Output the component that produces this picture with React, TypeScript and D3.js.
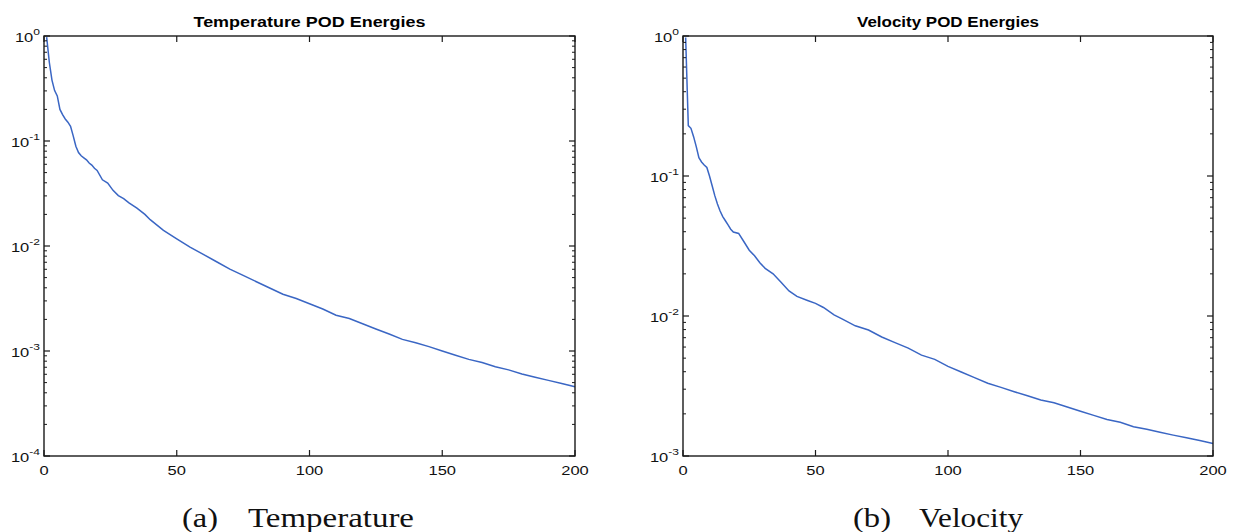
import React, { useEffect } from "react";
import * as d3 from "d3";

// POD mode index and normalised energy
const tempIdx = [1, 2, 3, 4, 5, 6, 7, 8, 9, 10, 11, 12, 13, 14, 15, 16, 17, 18, 19, 20, 22, 24, 26, 28, 30, 32, 35, 38, 40,
  45, 50, 55, 60, 65, 70, 75, 80, 85, 90, 95, 100, 105, 110, 115, 120, 125, 130, 135, 140, 145, 150, 155, 160, 165, 170,
  175, 180, 185, 190, 195, 200];
const tempEnergy = [0.977, 0.562, 0.38, 0.302, 0.269, 0.2, 0.178, 0.162, 0.151, 0.138,
  0.112, 0.0891, 0.0776, 0.0724, 0.0692, 0.0661, 0.0617, 0.0589, 0.055, 0.0525,
  0.0427, 0.0398, 0.0339, 0.0302, 0.0282, 0.0257,
  0.0229, 0.02, 0.0178,
  0.0141, 0.0117, 0.00977, 0.00832, 0.00708, 0.00603, 0.00525, 0.00457, 0.00398, 0.00347,
  0.00316, 0.00282, 0.00251, 0.00219, 0.00204, 0.00182, 0.00162, 0.00145, 0.00129, 0.0012,
  0.0011, 0.001, 0.000912, 0.000832, 0.000776, 0.000708, 0.000661, 0.000603, 0.000562, 0.000525,
  0.00049, 0.000457];

const velIdx = [1, 2, 3, 4, 5, 6, 7, 8, 9, 10, 11, 12, 13, 14, 15, 16, 17, 18, 19, 21, 23, 25, 27, 29, 31, 34, 37, 40, 43,
  47, 50, 53, 57, 60, 65, 70, 75, 80, 85, 90, 95, 100, 105, 110, 115, 120, 125, 130, 135, 140, 145, 150, 155, 160, 165,
  170, 175, 180, 185, 190, 195, 200];
const velEnergy = [0.977, 0.229, 0.219, 0.191, 0.162, 0.135, 0.126, 0.12, 0.115, 0.1,
  0.0851, 0.0724, 0.0631, 0.0562, 0.0513, 0.0479, 0.0447, 0.0417, 0.0398,
  0.0389, 0.0339, 0.0295, 0.0269, 0.024, 0.0219,
  0.02, 0.0174, 0.0151, 0.0138, 0.0129, 0.0123, 0.0115, 0.0102, 0.00955,
  0.00851, 0.00794, 0.00708, 0.00646, 0.00589, 0.00525, 0.0049, 0.00437, 0.00398, 0.00363,
  0.00331, 0.00309, 0.00288, 0.00269, 0.00251, 0.0024, 0.00224, 0.00209, 0.00195, 0.00182,
  0.00174, 0.00162, 0.00155, 0.00148, 0.00141, 0.00135, 0.00129, 0.00123];

const xTicks = [0, 50, 100, 150, 200];
const tempDecades = [0, -1, -2, -3, -4];
const velDecades = [0, -1, -2, -3];

const SANS = "'Liberation Sans', Arial, Helvetica, sans-serif";
const SERIF = "'Liberation Serif', 'Times New Roman', serif";
const STRETCH = 1.27; // the figure is stretched horizontally
const BLUE = "#3a66c4";
const AXIS = "#1a1a1a";

type PanelProps = {
  x0: number;
  x1: number;
  idx: number[];
  energy: number[];
  decades: number[];
  title: string;
  titleWidth: number;
  label: string;
  labelX: number;
  labelWidth: number;
  caption: string;
  captionX: number;
  captionWidth: number;
};

const TOP = 36;
const BOTTOM = 456;

function Panel(p: PanelProps) {
  const x = d3.scaleLinear().domain([0, 200]).range([p.x0, p.x1]);
  const y = d3
    .scaleLog()
    .domain([Math.pow(10, d3.min(p.decades)!), 1])
    .range([BOTTOM, TOP]);

  const line = d3
    .line<number>()
    .x((d, i) => x(p.idx[i]))
    .y((d) => y(d));

  const minor: number[] = [];
  p.decades.slice(1).forEach((d) => {
    for (let k = 2; k <= 9; k++) minor.push(k * Math.pow(10, d));
  });

  return (
    <g>
      <text
        x={(p.x0 + p.x1) / 2}
        y={27}
        textAnchor="middle"
        fontFamily={SANS}
        fontWeight="bold"
        fontSize={14}
        textLength={p.titleWidth}
        lengthAdjust="spacingAndGlyphs"
      >
        {p.title}
      </text>

      <path d={line(p.energy) || ""} fill="none" stroke={BLUE} strokeWidth={1.5} />

      {/* minor y ticks, both sides */}
      {minor.map((v, i) => (
        <g key={"m" + i} stroke={AXIS} strokeWidth={1}>
          <line x1={p.x0} x2={p.x0 + 3} y1={y(v)} y2={y(v)} />
          <line x1={p.x1} x2={p.x1 - 3} y1={y(v)} y2={y(v)} />
        </g>
      ))}
      {/* major y ticks and labels */}
      {p.decades.map((d) => {
        const yy = y(Math.pow(10, d));
        return (
          <g key={"d" + d}>
            <line x1={p.x0} x2={p.x0 + 6} y1={yy} y2={yy} stroke={AXIS} strokeWidth={1.2} />
            <line x1={p.x1} x2={p.x1 - 6} y1={yy} y2={yy} stroke={AXIS} strokeWidth={1.2} />
            <g transform={`translate(${p.x0 - 4},${yy + 5.5}) scale(${STRETCH},1)`}>
              <text textAnchor="end" fontFamily={SANS} fontSize={13} fill="#111">
                10
                <tspan dy={-7} fontSize={9.5}>
                  {String(d)}
                </tspan>
              </text>
            </g>
          </g>
        );
      })}
      {/* x ticks and labels */}
      {xTicks.map((t) => (
        <g key={"x" + t}>
          <line x1={x(t)} x2={x(t)} y1={BOTTOM} y2={BOTTOM - 6} stroke={AXIS} strokeWidth={1.2} />
          <line x1={x(t)} x2={x(t)} y1={TOP} y2={TOP + 6} stroke={AXIS} strokeWidth={1.2} />
          <g transform={`translate(${x(t)},${BOTTOM + 18.5}) scale(${STRETCH},1)`}>
            <text textAnchor="middle" fontFamily={SANS} fontSize={13} fill="#111">
              {t}
            </text>
          </g>
        </g>
      ))}

      <rect
        x={p.x0}
        y={TOP}
        width={p.x1 - p.x0}
        height={BOTTOM - TOP}
        fill="none"
        stroke={AXIS}
        strokeWidth={1.4}
      />

      <text
        x={p.labelX}
        y={527}
        fontFamily={SERIF}
        fontSize={28}
        fill="#111"
        textLength={p.labelWidth}
        lengthAdjust="spacingAndGlyphs"
      >
        {p.label}
      </text>
      <text
        x={p.captionX}
        y={527}
        fontFamily={SERIF}
        fontSize={28}
        fill="#111"
        textLength={p.captionWidth}
        lengthAdjust="spacingAndGlyphs"
      >
        {p.caption}
      </text>
    </g>
  );
}

export default function App() {
  useEffect(() => {
    document.body.style.margin = "0";
  }, []);

  return (
    <svg width={1235} height={532} style={{ display: "block", background: "#fff" }}>
      <Panel
        x0={44}
        x1={575}
        idx={tempIdx}
        energy={tempEnergy}
        decades={tempDecades}
        title="Temperature POD Energies"
        titleWidth={232}
        label="(a)"
        labelX={182}
        labelWidth={36}
        caption="Temperature"
        captionX={248}
        captionWidth={166}
      />
      <Panel
        x0={683}
        x1={1213}
        idx={velIdx}
        energy={velEnergy}
        decades={velDecades}
        title="Velocity POD Energies"
        titleWidth={182}
        label="(b)"
        labelX={853}
        labelWidth={38}
        caption="Velocity"
        captionX={919}
        captionWidth={104}
      />
    </svg>
  );
}
